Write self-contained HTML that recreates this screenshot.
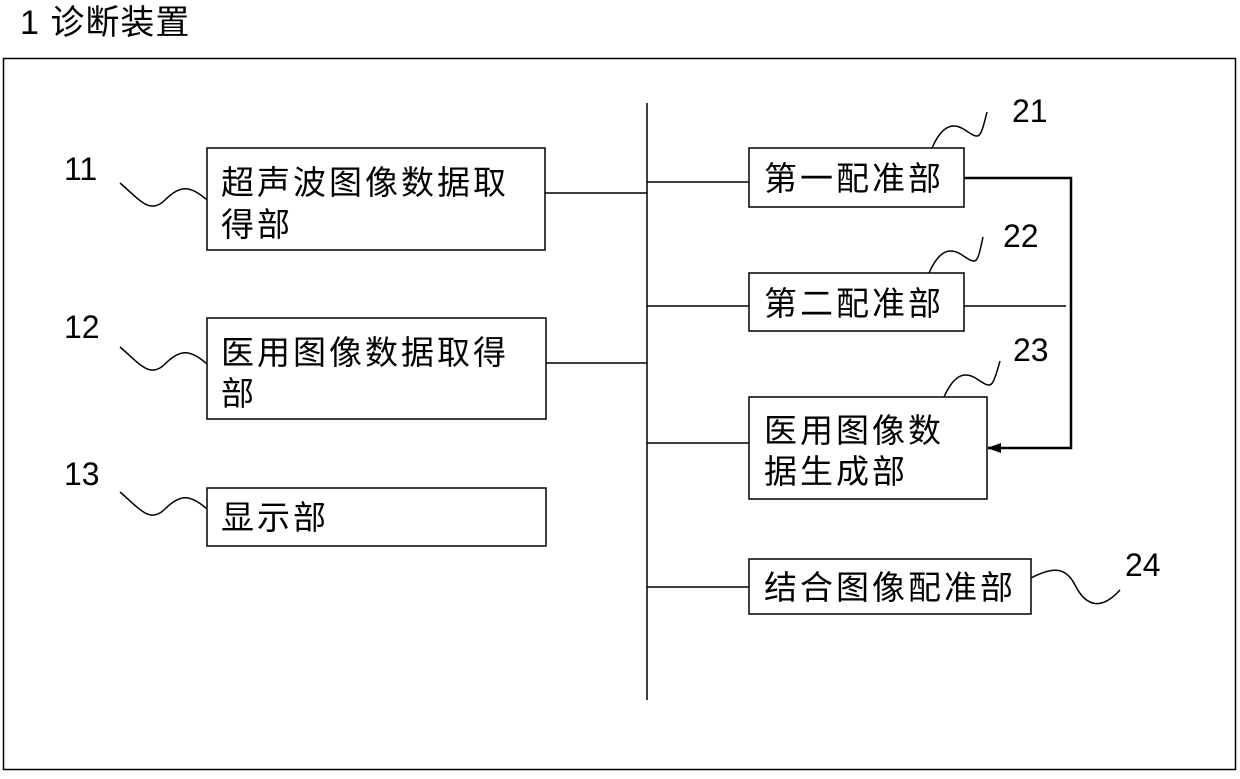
<!DOCTYPE html>
<html><head><meta charset="utf-8"><style>
body{margin:0;background:#fff;width:1240px;height:774px;overflow:hidden}
svg text{font-family:"Liberation Sans","Noto Sans CJK SC",sans-serif;fill:#000}
</style></head><body>
<svg width="1240" height="774" xmlns="http://www.w3.org/2000/svg">
<defs><marker id="a" markerWidth="14" markerHeight="10" refX="13" refY="5" orient="auto" markerUnits="userSpaceOnUse"><path d="M0,0 L14,5 L0,10 z" fill="#000"/></marker></defs>
<text x="20" y="34" font-size="34" letter-spacing="1">1 诊断装置</text>
<rect x="3.5" y="58.5" width="1232" height="711" fill="none" stroke="#000" stroke-width="1.5"/>
<g fill="none" stroke="#000" stroke-width="1.5">
<rect x="207" y="148" width="338" height="102"/>
<rect x="207" y="318" width="339" height="101"/>
<rect x="207" y="488" width="339" height="58"/>
<rect x="749" y="148" width="215" height="59"/>
<rect x="749" y="273" width="215" height="58"/>
<rect x="749" y="397" width="238" height="102"/>
<rect x="749" y="559" width="282" height="55"/>
<path d="M647 103 V700 M545 193 H647 M546 363 H647 M647 182 H749 M647 306 H749 M647 443 H749 M647 587 H749 M964 306 H1066"/>
<path d="M964 178 H1071 V448 H988" stroke-width="2.5" marker-end="url(#a)"/>
<path d="M120 183 C140 200 150 215 165 200 S190 185 207 200"/>
<path d="M120 347 C140 364 150 379 165 364 S190 349 207 364"/>
<path d="M120 492 C140 509 150 524 165 509 S190 494 207 509"/>
<path d="M932 148 C940 130 950 120 965 130 S980 140 987 112"/>
<path d="M929 273 C937 255 947 245 962 255 S977 265 983 237"/>
<path d="M944 397 C952 379 962 369 977 379 S992 389 1000 361"/>
<path d="M1031 578 C1050 568 1065 565 1075 585 S1100 612 1120 590"/>
</g>
<g font-size="32">
<text x="64" y="180">11</text><text x="64" y="338">12</text><text x="64" y="485">13</text>
<text x="1012" y="122">21</text><text x="1003" y="247">22</text><text x="1013" y="361">23</text><text x="1125" y="576">24</text>
</g>
<g font-size="33" letter-spacing="3">
<text x="221" y="194">超声波图像数据取</text><text x="221" y="236">得部</text>
<text x="221" y="364">医用图像数据取得</text><text x="221" y="405">部</text>
<text x="221" y="529">显示部</text>
<text x="764" y="190">第一配准部</text>
<text x="764" y="315">第二配准部</text>
<text x="764" y="442">医用图像数</text><text x="764" y="483">据生成部</text>
<text x="764" y="599">结合图像配准部</text>
</g>
</svg>
</body></html>
